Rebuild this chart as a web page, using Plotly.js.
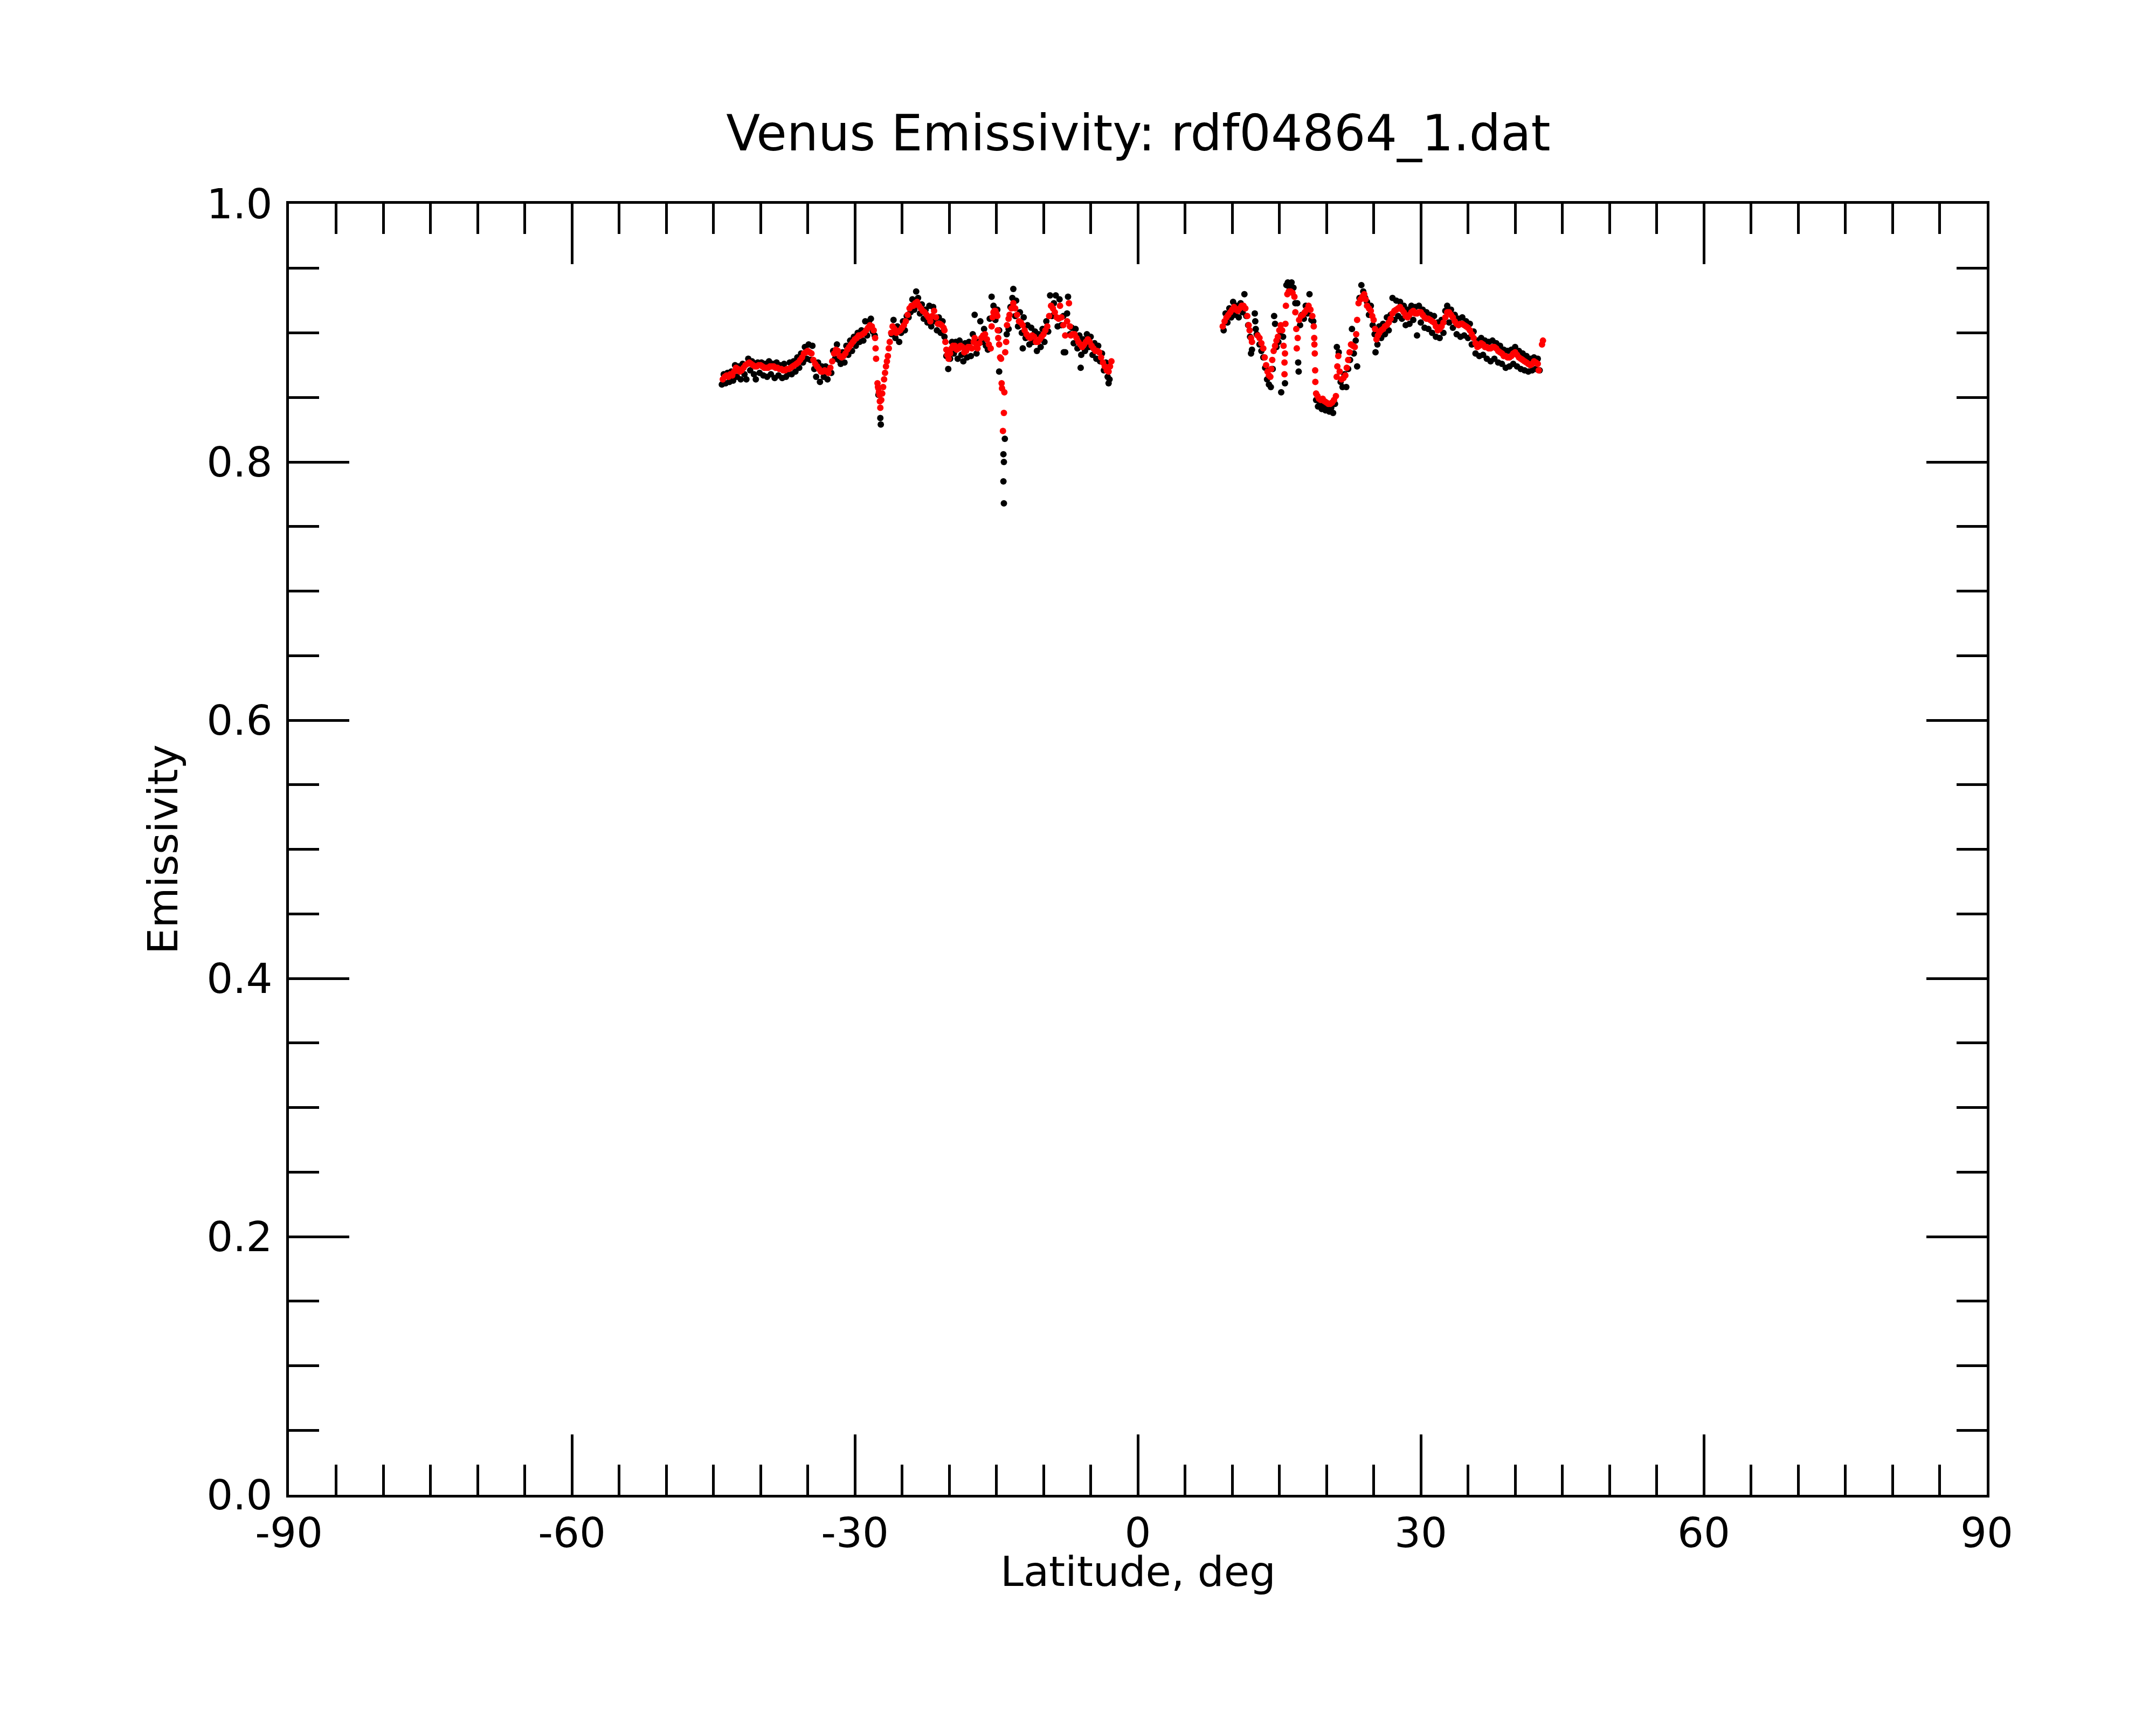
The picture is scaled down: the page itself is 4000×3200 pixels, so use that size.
<!DOCTYPE html>
<html>
<head>
<meta charset="utf-8">
<script src="https://cdn.plot.ly/plotly-3.0.1.min.js"></script>
<style>
  body { margin: 0; background: #fff; }
  #chart { width: 4000px; height: 3200px; }
</style>
</head>
<body>
<div id="chart"></div>
<script>
// Raw emissivity samples (black) and filtered samples (red), [latitude deg, emissivity]
var southBlack = [
  [-44.1,0.860],[-43.9,0.868],[-43.7,0.861],[-43.5,0.869],[-43.3,0.862],[-43.1,0.870],[-42.9,0.863],[-42.7,0.875],
  [-42.5,0.866],[-42.3,0.874],[-42.1,0.864],[-41.9,0.876],[-41.7,0.868],[-41.5,0.864],[-41.3,0.880],[-41.1,0.871],
  [-40.9,0.878],[-40.7,0.868],[-40.5,0.864],[-40.3,0.877],[-40.1,0.869],[-39.9,0.877],[-39.7,0.867],[-39.5,0.876],
  [-39.3,0.866],[-39.1,0.878],[-38.9,0.868],[-38.7,0.876],[-38.5,0.865],[-38.3,0.877],[-38.1,0.867],[-37.9,0.875],
  [-37.7,0.865],[-37.5,0.876],[-37.3,0.866],[-37.1,0.868],[-36.9,0.877],[-36.7,0.868],[-36.5,0.878],[-36.3,0.870],
  [-36.1,0.881],[-35.9,0.873],[-35.7,0.884],[-35.5,0.877],[-35.3,0.889],[-35.1,0.880],[-34.9,0.891],[-34.7,0.879],
  [-34.5,0.890],[-34.3,0.872],[-34.1,0.866],[-33.9,0.877],[-33.7,0.862],[-33.5,0.874],[-33.3,0.866],[-33.1,0.874],
  [-32.9,0.864],[-32.7,0.872],[-32.5,0.869],[-32.3,0.886],[-32.1,0.880],[-31.9,0.891],[-31.7,0.879],[-31.5,0.876],
  [-31.3,0.885],[-31.1,0.877],[-30.9,0.890],[-30.7,0.883],[-30.5,0.894],[-30.3,0.886],[-30.1,0.897],[-29.9,0.890],
  [-29.7,0.900],[-29.5,0.893],[-29.3,0.902],[-29.1,0.894],[-28.9,0.909],[-28.7,0.898],[-28.5,0.909],[-28.3,0.911],
  [-28.1,0.901],[-27.9,0.898],[-27.5,0.852],[-27.3,0.834],[-27.25,0.829],
  [-26.1,0.899],[-25.9,0.910],[-25.7,0.896],[-25.5,0.905],[-25.3,0.893],[-25.1,0.900],[-24.9,0.909],[-24.7,0.902],
  [-24.5,0.913],[-24.3,0.912],[-24.1,0.916],[-23.9,0.926],[-23.7,0.918],[-23.5,0.932],[-23.3,0.927],[-23.1,0.915],
  [-22.9,0.922],[-22.7,0.911],[-22.5,0.918],[-22.3,0.908],[-22.1,0.921],[-21.9,0.905],[-21.7,0.920],[-21.5,0.909],
  [-21.3,0.902],[-21.1,0.912],[-20.9,0.900],[-20.7,0.909],[-20.5,0.897],[-20.3,0.882],[-20.1,0.872],[-19.9,0.880],
  [-19.7,0.893],[-19.5,0.884],[-19.3,0.893],[-19.1,0.880],[-18.9,0.894],[-18.7,0.883],[-18.5,0.878],[-18.3,0.892],
  [-18.1,0.881],[-17.9,0.893],[-17.7,0.882],[-17.5,0.899],[-17.3,0.914],[-17.1,0.884],[-16.9,0.893],[-16.7,0.909],
  [-16.5,0.893],[-16.3,0.903],[-16.1,0.890],[-15.9,0.887],[-15.7,0.911],[-15.5,0.928],[-15.3,0.921],[-15.1,0.910],
  [-14.9,0.918],[-14.7,0.902],[-14.7,0.870],[-14.1,0.818],[-14.25,0.806],[-14.2,0.800],[-14.25,0.785],[-14.2,0.768],
  [-13.9,0.899],[-13.7,0.903],[-13.5,0.920],[-13.3,0.927],[-13.2,0.934],[-13.0,0.913],[-12.9,0.925],[-12.7,0.905],
  [-12.5,0.916],[-12.3,0.900],[-12.2,0.888],[-12.1,0.912],[-11.9,0.896],[-11.7,0.906],[-11.5,0.891],[-11.3,0.904],
  [-11.1,0.893],[-10.9,0.901],[-10.7,0.886],[-10.5,0.899],[-10.3,0.889],[-10.1,0.903],[-9.9,0.893],[-9.7,0.909],
  [-9.5,0.901],[-9.3,0.929],[-9.1,0.913],[-8.9,0.923],[-8.7,0.929],[-8.5,0.905],[-8.3,0.926],[-8.1,0.906],
  [-7.9,0.913],[-7.85,0.885],[-7.7,0.885],[-7.5,0.915],[-7.4,0.928],[-7.2,0.899],[-7.0,0.904],[-6.8,0.892],
  [-6.6,0.903],[-6.4,0.888],[-6.2,0.898],[-6.06,0.873],[-6.0,0.883],[-5.8,0.895],[-5.6,0.886],[-5.4,0.899],
  [-5.2,0.889],[-5.0,0.897],[-4.8,0.883],[-4.6,0.892],[-4.4,0.880],[-4.2,0.890],[-4.0,0.878],[-3.8,0.884],
  [-3.6,0.871],[-3.4,0.877],[-3.2,0.866],[-3.1,0.861],[-3.0,0.864]
];

var northBlack = [
  [9.1,0.902],[9.3,0.915],[9.5,0.908],[9.7,0.919],[9.9,0.912],[10.1,0.924],[10.3,0.914],[10.5,0.921],
  [10.7,0.912],[10.9,0.923],[11.1,0.916],[11.3,0.930],[11.5,0.913],[11.7,0.906],[11.9,0.897],[12.0,0.884],
  [12.1,0.887],[12.4,0.915],[12.45,0.909],[12.5,0.903],[12.6,0.899],[12.9,0.891],[13.1,0.886],[13.3,0.881],
  [13.5,0.873],[13.7,0.864],[13.9,0.860],[14.1,0.858],[14.3,0.872],[14.45,0.913],[14.55,0.907],[14.7,0.889],
  [14.9,0.893],[15.1,0.898],[15.2,0.854],[15.4,0.897],[15.6,0.861],[15.75,0.937],[15.9,0.939],[16.1,0.935],
  [16.3,0.939],[16.5,0.935],[16.7,0.923],[16.9,0.923],[17.0,0.877],[17.05,0.870],[17.2,0.906],[17.4,0.914],
  [17.6,0.911],[17.8,0.921],[18.0,0.915],[18.2,0.930],[18.4,0.910],[18.6,0.909],[18.9,0.848],[19.1,0.843],
  [19.3,0.845],[19.5,0.841],[19.7,0.843],[19.9,0.840],[20.1,0.842],[20.3,0.839],[20.5,0.842],[20.7,0.838],
  [20.9,0.845],[21.1,0.889],[21.3,0.885],[21.5,0.862],[21.7,0.858],[21.9,0.868],[22.1,0.858],[22.3,0.872],
  [22.5,0.879],[22.7,0.903],[22.9,0.884],[23.1,0.894],[23.25,0.874],[23.5,0.927],[23.7,0.937],[23.9,0.932],
  [24.1,0.927],[24.3,0.924],[24.5,0.914],[24.7,0.921],[24.9,0.906],[25.1,0.899],[25.2,0.885],[25.4,0.891],
  [25.6,0.905],[25.8,0.896],[26.0,0.907],[26.2,0.899],[26.4,0.912],[26.6,0.902],[26.8,0.914],[27.0,0.927],
  [27.2,0.910],[27.4,0.925],[27.6,0.913],[27.8,0.924],[28.0,0.911],[28.2,0.921],[28.4,0.906],[28.6,0.918],
  [28.8,0.907],[29.0,0.921],[29.2,0.910],[29.4,0.920],[29.6,0.898],[29.8,0.921],[30.0,0.908],[30.2,0.918],
  [30.4,0.904],[30.6,0.916],[30.8,0.903],[31.0,0.914],[31.2,0.900],[31.4,0.913],[31.6,0.897],[31.8,0.908],
  [32.0,0.896],[32.2,0.910],[32.4,0.900],[32.6,0.917],[32.8,0.921],[33.0,0.908],[33.2,0.918],[33.4,0.904],
  [33.6,0.914],[33.8,0.899],[34.0,0.911],[34.2,0.897],[34.4,0.912],[34.6,0.898],[34.8,0.909],[35.0,0.896],
  [35.2,0.907],[35.4,0.891],[35.6,0.901],[35.8,0.884],[36.0,0.894],[36.2,0.882],[36.4,0.896],[36.6,0.883],
  [36.8,0.894],[37.0,0.880],[37.2,0.893],[37.4,0.878],[37.6,0.894],[37.8,0.880],[38.0,0.892],[38.2,0.877],
  [38.4,0.890],[38.6,0.876],[38.8,0.887],[39.0,0.873],[39.2,0.886],[39.4,0.874],[39.6,0.887],[39.8,0.876],
  [40.0,0.889],[40.2,0.874],[40.4,0.886],[40.6,0.872],[40.8,0.884],[41.0,0.871],[41.2,0.882],[41.4,0.870],
  [41.6,0.880],[41.8,0.871],[42.0,0.881],[42.2,0.872],[42.4,0.880],[42.6,0.871]
];

var southRed = [
  [-44.0,0.864],[-43.8,0.866],[-43.6,0.867],[-43.4,0.866],[-43.2,0.868],[-43.0,0.867],[-42.8,0.870],[-42.6,0.873],
  [-42.4,0.872],[-42.2,0.870],[-42.0,0.871],[-41.8,0.873],[-41.6,0.875],[-41.4,0.876],[-41.2,0.877],[-41.0,0.876],
  [-40.8,0.875],[-40.6,0.874],[-40.4,0.874],[-40.2,0.875],[-40.0,0.875],[-39.8,0.874],[-39.6,0.873],[-39.4,0.873],
  [-39.2,0.873],[-39.0,0.874],[-38.8,0.874],[-38.6,0.874],[-38.4,0.873],[-38.2,0.873],[-38.0,0.872],[-37.8,0.872],
  [-37.6,0.871],[-37.4,0.871],[-37.2,0.872],[-37.0,0.872],[-36.8,0.873],[-36.6,0.874],[-36.4,0.875],[-36.2,0.876],
  [-36.0,0.877],[-35.8,0.879],[-35.6,0.881],[-35.4,0.884],[-35.2,0.885],[-35.0,0.886],[-34.8,0.885],[-34.6,0.884],
  [-34.4,0.879],[-34.2,0.876],[-34.0,0.874],[-33.8,0.872],[-33.6,0.870],[-33.4,0.870],[-33.2,0.871],[-33.0,0.870],
  [-32.8,0.869],[-32.6,0.873],[-32.4,0.878],[-32.2,0.884],[-32.0,0.887],[-31.8,0.886],[-31.6,0.882],[-31.4,0.881],
  [-31.2,0.882],[-31.0,0.884],[-30.8,0.887],[-30.6,0.889],[-30.4,0.891],[-30.2,0.893],[-30.0,0.895],[-29.8,0.896],
  [-29.6,0.898],[-29.4,0.898],[-29.2,0.899],[-29.0,0.900],[-28.8,0.902],[-28.6,0.904],[-28.4,0.906],[-28.2,0.905],
  [-28.0,0.902],[-27.85,0.896],[-27.8,0.888],[-27.75,0.880],[-27.6,0.861],[-27.55,0.858],[-27.5,0.857],[-27.45,0.854],
  [-27.4,0.852],[-27.35,0.847],[-27.3,0.842],[-27.2,0.848],[-27.1,0.853],[-27.0,0.858],[-26.9,0.864],[-26.8,0.869],
  [-26.7,0.874],[-26.6,0.878],[-26.5,0.882],[-26.4,0.888],[-26.3,0.893],[-26.15,0.900],[-26.0,0.905],[-25.8,0.903],
  [-25.6,0.900],[-25.4,0.901],[-25.2,0.902],[-25.0,0.904],[-24.8,0.906],[-24.6,0.909],[-24.4,0.914],[-24.2,0.919],
  [-24.0,0.921],[-23.8,0.921],[-23.6,0.923],[-23.4,0.924],[-23.2,0.921],[-23.0,0.919],[-22.8,0.917],[-22.6,0.916],
  [-22.4,0.914],[-22.2,0.912],[-22.0,0.909],[-21.8,0.913],[-21.6,0.917],[-21.4,0.912],[-21.2,0.907],[-21.0,0.907],
  [-20.8,0.906],[-20.6,0.904],[-20.5,0.902],[-20.4,0.893],[-20.3,0.887],[-20.2,0.883],[-20.06,0.880],[-19.9,0.884],
  [-19.75,0.888],[-19.6,0.890],[-19.4,0.890],[-19.2,0.887],[-19.0,0.888],[-18.8,0.890],[-18.6,0.889],[-18.4,0.885],
  [-18.2,0.886],[-18.0,0.889],[-17.8,0.889],[-17.6,0.888],[-17.4,0.893],[-17.3,0.896],[-17.1,0.891],[-17.0,0.888],
  [-16.8,0.892],[-16.6,0.896],[-16.4,0.898],[-16.2,0.899],[-16.0,0.895],[-15.8,0.891],[-15.6,0.888],[-15.5,0.905],
  [-15.4,0.912],[-15.3,0.916],[-15.2,0.917],[-15.1,0.917],[-15.0,0.915],[-14.9,0.913],[-14.85,0.902],[-14.8,0.896],
  [-14.7,0.891],[-14.6,0.881],[-14.5,0.880],[-14.44,0.861],[-14.4,0.857],[-14.3,0.824],[-14.2,0.838],[-14.15,0.854],
  [-14.06,0.885],[-13.96,0.893],[-13.87,0.906],[-13.7,0.911],[-13.6,0.914],[-13.4,0.919],[-13.2,0.923],[-13.0,0.919],
  [-12.8,0.914],[-12.6,0.909],[-12.4,0.908],[-12.2,0.906],[-12.0,0.902],[-11.8,0.899],[-11.6,0.897],[-11.4,0.896],
  [-11.2,0.898],[-11.0,0.897],[-10.8,0.893],[-10.6,0.893],[-10.4,0.895],[-10.2,0.897],[-10.0,0.899],[-9.8,0.902],
  [-9.6,0.905],[-9.4,0.913],[-9.2,0.921],[-9.0,0.919],[-8.8,0.916],[-8.6,0.912],[-8.4,0.911],[-8.25,0.921],
  [-8.1,0.912],[-7.9,0.906],[-7.7,0.898],[-7.5,0.909],[-7.3,0.923],[-7.2,0.905],[-7.1,0.898],[-6.9,0.899],
  [-6.7,0.899],[-6.5,0.896],[-6.3,0.893],[-6.1,0.891],[-5.9,0.889],[-5.7,0.891],[-5.5,0.893],[-5.3,0.895],
  [-5.1,0.893],[-4.9,0.890],[-4.7,0.888],[-4.5,0.886],[-4.3,0.886],[-4.1,0.885],[-3.9,0.881],[-3.7,0.877],
  [-3.5,0.874],[-3.3,0.871],[-3.1,0.870],[-2.95,0.874],[-2.8,0.878]
];

var northRed = [
  [9.0,0.905],[9.2,0.909],[9.4,0.912],[9.6,0.914],[9.8,0.916],[10.0,0.918],[10.2,0.920],[10.4,0.918],
  [10.6,0.917],[10.8,0.919],[11.0,0.921],[11.2,0.921],[11.4,0.919],[11.6,0.913],[11.75,0.906],[11.85,0.902],
  [12.0,0.896],[12.1,0.893],[12.7,0.898],[12.9,0.896],[13.1,0.892],[13.3,0.888],[13.45,0.881],[13.6,0.875],
  [13.75,0.870],[13.9,0.867],[14.05,0.866],[14.15,0.872],[14.25,0.879],[14.4,0.886],[14.55,0.890],[14.7,0.894],
  [14.85,0.897],[15.0,0.902],[15.15,0.906],[15.3,0.902],[15.45,0.890],[15.55,0.877],[15.55,0.868],[15.6,0.884],
  [15.65,0.907],[15.7,0.921],[15.85,0.930],[16.0,0.932],[16.2,0.932],[16.4,0.931],[16.6,0.928],[16.7,0.916],
  [16.8,0.903],[16.85,0.888],[16.95,0.896],[17.1,0.910],[17.3,0.913],[17.5,0.914],[17.7,0.916],[17.9,0.918],
  [18.1,0.921],[18.3,0.918],[18.5,0.913],[18.65,0.905],[18.7,0.896],[18.72,0.891],[18.76,0.884],[18.8,0.871],
  [18.82,0.862],[18.9,0.853],[19.05,0.851],[19.2,0.849],[19.4,0.848],[19.6,0.849],[19.8,0.847],[20.0,0.846],
  [20.2,0.845],[20.4,0.845],[20.6,0.846],[20.8,0.848],[21.0,0.851],[21.08,0.866],[21.15,0.874],[21.25,0.882],
  [21.4,0.870],[21.6,0.864],[21.8,0.865],[22.0,0.867],[22.15,0.873],[22.3,0.879],[22.45,0.885],[22.6,0.891],
  [22.8,0.890],[23.0,0.889],[23.15,0.899],[23.25,0.910],[23.4,0.923],[23.6,0.926],[23.8,0.928],[24.0,0.930],
  [24.15,0.926],[24.3,0.921],[24.5,0.919],[24.7,0.917],[24.85,0.913],[25.0,0.910],[25.15,0.903],[25.3,0.895],
  [25.45,0.898],[25.6,0.900],[25.8,0.902],[26.0,0.903],[26.2,0.905],[26.4,0.906],[26.6,0.908],[26.8,0.911],
  [27.0,0.915],[27.2,0.917],[27.4,0.918],[27.6,0.919],[27.8,0.920],[28.0,0.918],[28.2,0.916],[28.4,0.913],
  [28.6,0.912],[28.8,0.914],[29.0,0.916],[29.2,0.917],[29.4,0.915],[29.6,0.915],[29.8,0.916],[30.0,0.916],
  [30.2,0.914],[30.4,0.912],[30.6,0.911],[30.8,0.911],[31.0,0.910],[31.2,0.909],[31.4,0.908],[31.6,0.905],
  [31.8,0.902],[32.0,0.903],[32.2,0.905],[32.4,0.908],[32.6,0.912],[32.8,0.916],[33.0,0.916],[33.2,0.914],
  [33.4,0.912],[33.6,0.909],[33.8,0.907],[34.0,0.906],[34.2,0.907],[34.4,0.907],[34.6,0.906],[34.8,0.905],
  [35.0,0.904],[35.2,0.902],[35.4,0.899],[35.6,0.896],[35.8,0.892],[36.0,0.889],[36.2,0.890],[36.4,0.892],
  [36.6,0.891],[36.8,0.889],[37.0,0.889],[37.2,0.888],[37.4,0.888],[37.6,0.889],[37.8,0.889],[38.0,0.888],
  [38.2,0.886],[38.4,0.885],[38.6,0.884],[38.8,0.882],[39.0,0.882],[39.2,0.881],[39.4,0.881],[39.6,0.882],
  [39.8,0.884],[40.0,0.885],[40.2,0.883],[40.4,0.881],[40.6,0.880],[40.8,0.879],[41.0,0.878],[41.2,0.877],
  [41.4,0.876],[41.6,0.875],[41.8,0.876],[42.0,0.878],[42.2,0.877],[42.4,0.876],[42.5,0.871],[42.85,0.891],
  [42.95,0.894]
];

var xTicks = [-90, -60, -30, 0, 30, 60, 90];
var yTicks = [0.0, 0.2, 0.4, 0.6, 0.8, 1.0];

function dotTrace(points, color, size) {
    return {
        type: 'scatter',
        mode: 'markers',
        x: points.map(function(p) { return p[0]; }),
        y: points.map(function(p) { return p[1]; }),
        marker: { color: color, size: size, line: { width: 0 } },
        hoverinfo: 'skip'
    };
}

var data = [
    dotTrace(southBlack.concat(northBlack), '#000000', 12),
    dotTrace(southRed.concat(northRed), '#ff0000', 12)
];

var font = { family: 'DejaVu Sans, sans-serif', color: '#000000' };

var layout = {
    width: 4000,
    height: 3200,
    margin: { l: 536, r: 314, t: 378, b: 427 },
    paper_bgcolor: '#ffffff',
    plot_bgcolor: '#ffffff',
    showlegend: false,
    font: { family: font.family, color: font.color, size: 77 },
    title: {
        text: 'Venus Emissivity: rdf04864_1.dat',
        font: { family: font.family, color: font.color, size: 92 },
        x: 0.528, xanchor: 'center',
        y: 0.923, yanchor: 'middle', yref: 'container'
    },
    // x axis title placed as an annotation so it sits right under the tick labels
    annotations: [{
        text: 'Latitude, deg',
        xref: 'paper', yref: 'paper',
        x: 0.5, y: -0.0595,
        xanchor: 'center', yanchor: 'middle',
        showarrow: false,
        font: { family: font.family, color: font.color, size: 77 }
    }],
    xaxis: {
        range: [-90, 90],
        tickmode: 'array',
        tickvals: xTicks,
        ticktext: xTicks.map(String),
        ticks: 'inside', ticklen: 112, tickwidth: 5, tickcolor: '#000',
        minor: { dtick: 5, tick0: -90, ticks: 'inside', ticklen: 56, tickwidth: 5, tickcolor: '#000', showgrid: false },
        showline: true, linewidth: 5, linecolor: '#000', mirror: 'ticks',
        showgrid: false, zeroline: false,
        tickfont: { family: font.family, color: font.color, size: 77 },
        automargin: false
    },
    yaxis: {
        range: [0, 1],
        tickmode: 'array',
        tickvals: yTicks,
        ticktext: yTicks.map(function(v) { return v.toFixed(1); }),
        ticks: 'inside', ticklen: 112, tickwidth: 5, tickcolor: '#000',
        minor: { dtick: 0.05, tick0: 0, ticks: 'inside', ticklen: 56, tickwidth: 5, tickcolor: '#000', showgrid: false },
        showline: true, linewidth: 5, linecolor: '#000', mirror: 'ticks',
        showgrid: false, zeroline: false,
        tickfont: { family: font.family, color: font.color, size: 77 },
        ticklabelstandoff: 10,
        title: { text: 'Emissivity', font: { family: font.family, color: font.color, size: 77 }, standoff: 30 },
        automargin: false
    }
};

Plotly.newPlot('chart', data, layout, { displayModeBar: false, staticPlot: true });
</script>
</body>
</html>
